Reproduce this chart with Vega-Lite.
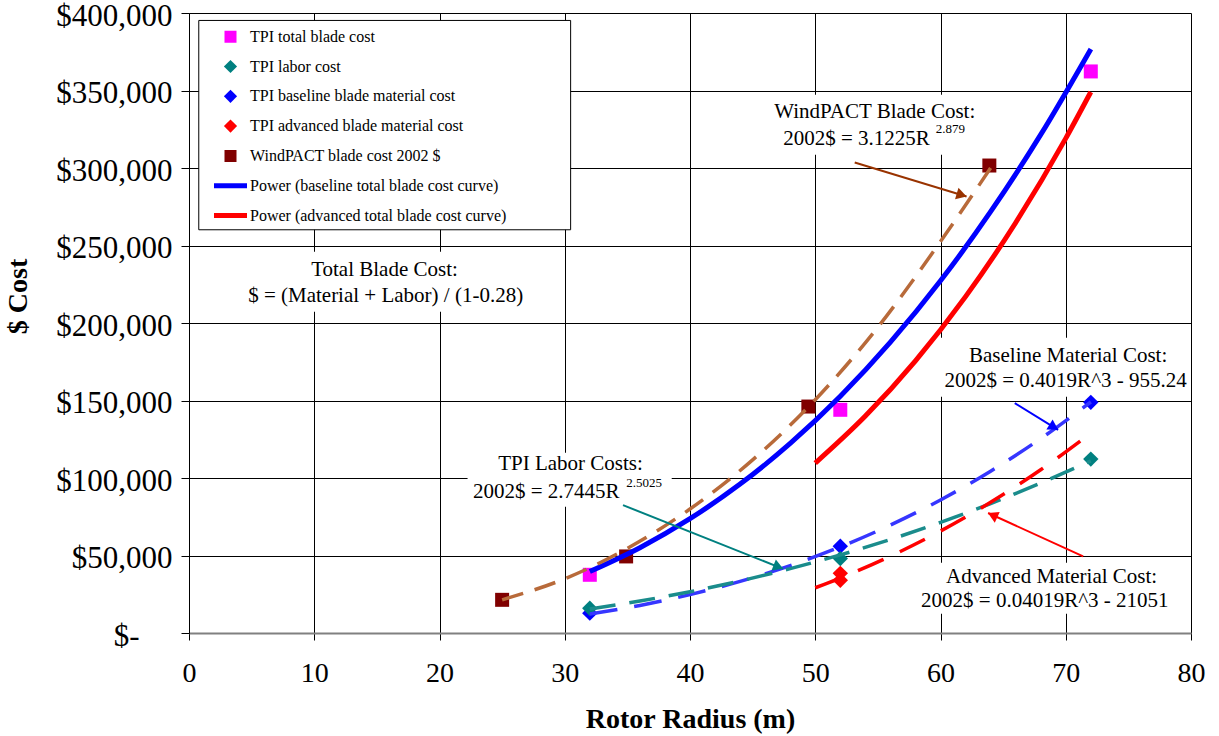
{
  "$schema": "https://vega.github.io/schema/vega-lite/v6.json",
  "width": 1002,
  "height": 620,
  "autosize": {"type": "none"},
  "padding": {"left": 189, "top": 13, "right": 28, "bottom": 103},
  "background": "white",
  "config": {
    "font": "Liberation Serif",
    "view": {"stroke": null},
    "legend": {
      "orient": "none",
      "legendX": 10.3,
      "legendY": 13.7,
      "padding": 0,
      "labelFont": "Liberation Serif",
      "labelFontSize": 16,
      "labelColor": "#000000",
      "labelLimit": 400,
      "symbolSize": 100,
      "symbolStrokeWidth": 5,
      "symbolOpacity": 1,
      "symbolOffset": 23.2,
      "labelOffset": 11.5,
      "clipHeight": 20,
      "rowPadding": 9.8
    }
  },
  "datasets": {
    "points": [
      {"series": "TPI total blade cost", "r": 32, "cost": 37550},
      {"series": "TPI total blade cost", "r": 52, "cost": 144000},
      {"series": "TPI total blade cost", "r": 72, "cost": 362300},
      {"series": "TPI baseline blade material cost", "r": 32, "cost": 12800},
      {"series": "TPI baseline blade material cost", "r": 52, "cost": 56000},
      {"series": "TPI baseline blade material cost", "r": 72, "cost": 148800},
      {"series": "TPI labor cost", "r": 32, "cost": 16000},
      {"series": "TPI labor cost", "r": 52, "cost": 48000},
      {"series": "TPI labor cost", "r": 72, "cost": 112200},
      {"series": "TPI advanced blade material cost", "r": 52, "cost": 38500},
      {"series": "TPI advanced blade material cost", "r": 52, "cost": 34000},
      {"series": "WindPACT blade cost 2002 $", "r": 25, "cost": 21400},
      {"series": "WindPACT blade cost 2002 $", "r": 34.9, "cost": 49400},
      {"series": "WindPACT blade cost 2002 $", "r": 49.45, "cost": 146100},
      {"series": "WindPACT blade cost 2002 $", "r": 63.9, "cost": 301600}
    ],
    "curves": [
      {"series": "Power (baseline total blade cost curve)", "r": 32, "cost": 39700},
      {"series": "Power (baseline total blade cost curve)", "r": 36, "cost": 55050},
      {"series": "Power (baseline total blade cost curve)", "r": 40, "cost": 73740},
      {"series": "Power (baseline total blade cost curve)", "r": 44, "cost": 96070},
      {"series": "Power (baseline total blade cost curve)", "r": 48, "cost": 122300},
      {"series": "Power (baseline total blade cost curve)", "r": 52, "cost": 152700},
      {"series": "Power (baseline total blade cost curve)", "r": 56, "cost": 187600},
      {"series": "Power (baseline total blade cost curve)", "r": 60, "cost": 227200},
      {"series": "Power (baseline total blade cost curve)", "r": 64, "cost": 271800},
      {"series": "Power (baseline total blade cost curve)", "r": 68, "cost": 321500},
      {"series": "Power (baseline total blade cost curve)", "r": 72, "cost": 376700},
      {"series": "Power (advanced total blade cost curve)", "r": 50, "cost": 109600},
      {"series": "Power (advanced total blade cost curve)", "r": 54, "cost": 139950},
      {"series": "Power (advanced total blade cost curve)", "r": 58, "cost": 175600},
      {"series": "Power (advanced total blade cost curve)", "r": 62, "cost": 217000},
      {"series": "Power (advanced total blade cost curve)", "r": 66, "cost": 264700},
      {"series": "Power (advanced total blade cost curve)", "r": 70, "cost": 319100},
      {"series": "Power (advanced total blade cost curve)", "r": 72, "cost": 349000},
      {"series": "WindPACT fit", "r": 25, "cost": 21400},
      {"series": "WindPACT fit", "r": 30, "cost": 35000},
      {"series": "WindPACT fit", "r": 35, "cost": 54600},
      {"series": "WindPACT fit", "r": 40, "cost": 80000},
      {"series": "WindPACT fit", "r": 45, "cost": 111700},
      {"series": "WindPACT fit", "r": 50, "cost": 150500},
      {"series": "WindPACT fit", "r": 55, "cost": 197300},
      {"series": "WindPACT fit", "r": 60, "cost": 252600},
      {"series": "WindPACT fit", "r": 64, "cost": 300000},
      {"series": "Baseline material fit", "r": 32, "cost": 12215},
      {"series": "Baseline material fit", "r": 36, "cost": 17796},
      {"series": "Baseline material fit", "r": 40, "cost": 24767},
      {"series": "Baseline material fit", "r": 44, "cost": 33280},
      {"series": "Baseline material fit", "r": 48, "cost": 43492},
      {"series": "Baseline material fit", "r": 52, "cost": 55555},
      {"series": "Baseline material fit", "r": 56, "cost": 69625},
      {"series": "Baseline material fit", "r": 60, "cost": 85855},
      {"series": "Baseline material fit", "r": 64, "cost": 104401},
      {"series": "Baseline material fit", "r": 68, "cost": 125415},
      {"series": "Baseline material fit", "r": 72, "cost": 149053},
      {"series": "Labor fit", "r": 32, "cost": 15500},
      {"series": "Labor fit", "r": 36, "cost": 20630},
      {"series": "Labor fit", "r": 40, "cost": 26650},
      {"series": "Labor fit", "r": 44, "cost": 33600},
      {"series": "Labor fit", "r": 48, "cost": 41500},
      {"series": "Labor fit", "r": 52, "cost": 50400},
      {"series": "Labor fit", "r": 56, "cost": 60350},
      {"series": "Labor fit", "r": 60, "cost": 71360},
      {"series": "Labor fit", "r": 64, "cost": 83470},
      {"series": "Labor fit", "r": 68, "cost": 96720},
      {"series": "Labor fit", "r": 72, "cost": 111100},
      {"series": "Advanced material fit", "r": 50, "cost": 29187},
      {"series": "Advanced material fit", "r": 52, "cost": 35459},
      {"series": "Advanced material fit", "r": 56, "cost": 49529},
      {"series": "Advanced material fit", "r": 60, "cost": 65759},
      {"series": "Advanced material fit", "r": 64, "cost": 84305},
      {"series": "Advanced material fit", "r": 68, "cost": 105319},
      {"series": "Advanced material fit", "r": 72, "cost": 128957}
    ],
    "boxes": [
      {"box": "legend", "r": 0.78, "r2": 30.47, "cost": 260150, "cost2": 395200},
      {"box": "windpact", "r": 46.2, "r2": 63.5, "cost": 308500, "cost2": 347250},
      {"box": "labor", "r": 22.24, "r2": 38.54, "cost": 81400, "cost2": 116300},
      {"box": "total", "r": 4.27, "r2": 27.04, "cost": 207200, "cost2": 245950},
      {"box": "baseline", "r": 59.7, "r2": 79.8, "cost": 152400, "cost2": 190500},
      {"box": "advanced", "r": 57.95, "r2": 78.8, "cost": 12400, "cost2": 45300}
    ],
    "arrows": [
      {"arrow": "windpact", "part": "shaft", "r": 53.15, "cost": 303600, "r2": 62.08, "cost2": 281600},
      {"arrow": "windpact", "part": "head", "r": 61.69, "cost": 282600},
      {"arrow": "labor", "part": "shaft", "r": 34.65, "cost": 82500, "r2": 47.43, "cost2": 41400},
      {"arrow": "labor", "part": "head", "r": 47.06, "cost": 42650},
      {"arrow": "baseline", "part": "shaft", "r": 65.93, "cost": 148300, "r2": 69.39, "cost2": 131100},
      {"arrow": "baseline", "part": "head", "r": 69.05, "cost": 132800},
      {"arrow": "advanced", "part": "shaft", "r": 71.39, "cost": 49400, "r2": 63.8, "cost2": 77400},
      {"arrow": "advanced", "part": "head", "r": 64.16, "cost": 76000}
    ],
    "notes": [
      {"part": "line", "text": "WindPACT Blade Cost:", "r": 54.75, "cost": 332200},
      {"part": "base", "text": "2002$ = 3.1225R", "r": 59.15, "cost": 315000},
      {"part": "sup", "text": "2.879", "r": 59.63, "cost": 322500},
      {"part": "line", "text": "Total Blade Cost:", "r": 15.61, "cost": 230460},
      {"part": "line", "text": "$ = (Material + Labor) / (1-0.28)", "r": 15.7, "cost": 213700},
      {"part": "line", "text": "TPI Labor Costs:", "r": 30.46, "cost": 105300},
      {"part": "base", "text": "2002$ = 2.7445R", "r": 34.38, "cost": 87040},
      {"part": "sup", "text": "2.5025", "r": 34.92, "cost": 93880},
      {"part": "line", "text": "Baseline Material Cost:", "r": 70.19, "cost": 174800},
      {"part": "line", "text": "2002$ = 0.4019R^3 - 955.24", "r": 69.99, "cost": 158650},
      {"part": "line", "text": "Advanced Material Cost:", "r": 68.87, "cost": 32200},
      {"part": "line", "text": "2002$ = 0.04019R^3 - 21051", "r": 68.33, "cost": 16710}
    ]
  },
  "encoding": {
    "x": {
      "field": "r",
      "type": "quantitative",
      "scale": {"domain": [0, 80], "nice": false, "zero": false},
      "axis": {
        "title": "Rotor Radius (m)",
        "values": [0, 10, 20, 30, 40, 50, 60, 70, 80],
        "grid": true,
        "gridColor": "#000000",
        "gridWidth": 1,
        "gridOpacity": 1,
        "domainColor": "#808080",
        "domainWidth": 2,
        "tickColor": "#000000",
        "tickSize": 7,
        "tickWidth": 1,
        "labelFont": "Liberation Serif",
        "labelFontSize": 28,
        "labelColor": "#000000",
        "labelPadding": 19,
        "labelFlush": false,
        "labelOverlap": false,
        "titleFont": "Liberation Serif",
        "titleFontSize": 28,
        "titleFontWeight": "bold",
        "titleColor": "#000000",
        "titleY": 94,
        "titleBaseline": "alphabetic"
      }
    },
    "y": {
      "field": "cost",
      "type": "quantitative",
      "scale": {"domain": [0, 400000], "nice": false, "zero": true},
      "axis": {
        "title": "$ Cost",
        "values": [0, 50000, 100000, 150000, 200000, 250000, 300000, 350000, 400000],
        "labelExpr": "datum.value == 0 ? '$-' : '$' + format(datum.value, ',')",
        "grid": true,
        "gridColor": "#000000",
        "gridWidth": 1,
        "gridOpacity": 1,
        "domainColor": "#000000",
        "domainWidth": 1,
        "tickColor": "#000000",
        "tickSize": 8,
        "tickWidth": 1,
        "labelFont": "Liberation Serif",
        "labelFontSize": 31,
        "labelColor": "#000000",
        "labelPadding": {"condition": {"test": "datum.value === 0", "value": 42}, "value": 9},
        "labelOffset": 3,
        "labelFlush": false,
        "labelOverlap": false,
        "titleFont": "Liberation Serif",
        "titleFontSize": 28,
        "titleFontWeight": "bold",
        "titleColor": "#000000",
        "titleX": -157,
        "titleY": 283
      }
    }
  },
  "layer": [
    {
      "data": {"name": "boxes"},
      "transform": [{"filter": "datum.box == 'legend'"}],
      "mark": {"type": "rect", "fill": "white", "stroke": "black", "strokeWidth": 1},
      "encoding": {"x2": {"field": "r2"}, "y2": {"field": "cost2"}}
    },
    {
      "data": {"name": "boxes"},
      "transform": [{"filter": "datum.box != 'legend'"}],
      "mark": {"type": "rect", "fill": "white", "strokeWidth": 0},
      "encoding": {"x2": {"field": "r2"}, "y2": {"field": "cost2"}}
    },
    {
      "data": {"name": "points"},
      "mark": {"type": "point", "filled": true, "opacity": 1, "size": 136},
      "encoding": {
        "fill": {
          "field": "series",
          "type": "nominal",
          "scale": {
            "domain": ["TPI total blade cost", "TPI labor cost", "TPI baseline blade material cost", "TPI advanced blade material cost", "WindPACT blade cost 2002 $", "Power (baseline total blade cost curve)", "Power (advanced total blade cost curve)"],
            "range": ["#FF00FF", "#008080", "#0000FF", "#FF0000", "#800000", "transparent", "transparent"]
          },
          "legend": {"title": null}
        },
        "stroke": {
          "field": "series",
          "type": "nominal",
          "scale": {
            "domain": ["TPI total blade cost", "TPI labor cost", "TPI baseline blade material cost", "TPI advanced blade material cost", "WindPACT blade cost 2002 $", "Power (baseline total blade cost curve)", "Power (advanced total blade cost curve)"],
            "range": ["transparent", "transparent", "transparent", "transparent", "transparent", "#0000FF", "#FF0000"]
          },
          "legend": {"title": null}
        },
        "shape": {
          "field": "series",
          "type": "nominal",
          "scale": {
            "domain": ["TPI total blade cost", "TPI labor cost", "TPI baseline blade material cost", "TPI advanced blade material cost", "WindPACT blade cost 2002 $", "Power (baseline total blade cost curve)", "Power (advanced total blade cost curve)"],
            "range": ["M-1.2,-1.2L1.2,-1.2L1.2,1.2L-1.2,1.2Z", "M0,-1.32L1.32,0L0,1.32L-1.32,0Z", "M0,-1.32L1.32,0L0,1.32L-1.32,0Z", "M0,-1.32L1.32,0L0,1.32L-1.32,0Z", "M-1.2,-1.2L1.2,-1.2L1.2,1.2L-1.2,1.2Z", "M-3.3,0L3.3,0", "M-3.3,0L3.3,0"]
          },
          "legend": {"title": null}
        }
      }
    },
    {
      "data": {"name": "curves"},
      "transform": [{"filter": "indexof(datum.series, 'Power') == 0"}],
      "mark": {"type": "line", "strokeWidth": 5, "interpolate": "monotone"},
      "encoding": {
        "stroke": {
          "field": "series",
          "type": "nominal",
          "scale": {
            "domain": ["TPI total blade cost", "TPI labor cost", "TPI baseline blade material cost", "TPI advanced blade material cost", "WindPACT blade cost 2002 $", "Power (baseline total blade cost curve)", "Power (advanced total blade cost curve)"],
            "range": ["transparent", "transparent", "transparent", "transparent", "transparent", "#0000FF", "#FF0000"]
          },
          "legend": null
        }
      }
    },
    {
      "data": {"name": "curves"},
      "transform": [{"filter": "datum.series == 'WindPACT fit'"}],
      "mark": {"type": "line", "strokeWidth": 3.5, "color": "#B86A3A", "strokeDash": [22, 12], "interpolate": "monotone"},
      "encoding": {}
    },
    {
      "data": {"name": "curves"},
      "transform": [{"filter": "datum.series == 'Baseline material fit'"}],
      "mark": {"type": "line", "strokeWidth": 3.5, "color": "#3636FF", "strokeDash": [28, 17], "interpolate": "monotone"},
      "encoding": {}
    },
    {
      "data": {"name": "curves"},
      "transform": [{"filter": "datum.series == 'Labor fit'"}],
      "mark": {"type": "line", "strokeWidth": 3.5, "color": "#1A8C8C", "strokeDash": [26, 14], "interpolate": "monotone"},
      "encoding": {}
    },
    {
      "data": {"name": "curves"},
      "transform": [{"filter": "datum.series == 'Advanced material fit'"}],
      "mark": {"type": "line", "strokeWidth": 3.5, "color": "#FF0000", "strokeDash": [28, 18], "interpolate": "monotone"},
      "encoding": {}
    },
    {
      "data": {"name": "arrows"},
      "transform": [{"filter": "datum.arrow == 'windpact' && datum.part == 'shaft'"}],
      "mark": {"type": "rule", "color": "#993300", "strokeWidth": 2},
      "encoding": {"x2": {"field": "r2"}, "y2": {"field": "cost2"}}
    },
    {
      "data": {"name": "arrows"},
      "transform": [{"filter": "datum.arrow == 'windpact' && datum.part == 'head'"}],
      "mark": {"type": "point", "shape": "triangle-up", "filled": true, "opacity": 1, "color": "#993300", "size": 140, "angle": 106.9},
      "encoding": {}
    },
    {
      "data": {"name": "arrows"},
      "transform": [{"filter": "datum.arrow == 'labor' && datum.part == 'shaft'"}],
      "mark": {"type": "rule", "color": "#008080", "strokeWidth": 2},
      "encoding": {"x2": {"field": "r2"}, "y2": {"field": "cost2"}}
    },
    {
      "data": {"name": "arrows"},
      "transform": [{"filter": "datum.arrow == 'labor' && datum.part == 'head'"}],
      "mark": {"type": "point", "shape": "triangle-up", "filled": true, "opacity": 1, "color": "#008080", "size": 140, "angle": 111.8},
      "encoding": {}
    },
    {
      "data": {"name": "arrows"},
      "transform": [{"filter": "datum.arrow == 'baseline' && datum.part == 'shaft'"}],
      "mark": {"type": "rule", "color": "#0000FF", "strokeWidth": 2},
      "encoding": {"x2": {"field": "r2"}, "y2": {"field": "cost2"}}
    },
    {
      "data": {"name": "arrows"},
      "transform": [{"filter": "datum.arrow == 'baseline' && datum.part == 'head'"}],
      "mark": {"type": "point", "shape": "triangle-up", "filled": true, "opacity": 1, "color": "#0000FF", "size": 140, "angle": 121.7},
      "encoding": {}
    },
    {
      "data": {"name": "arrows"},
      "transform": [{"filter": "datum.arrow == 'advanced' && datum.part == 'shaft'"}],
      "mark": {"type": "rule", "color": "#FF0000", "strokeWidth": 2},
      "encoding": {"x2": {"field": "r2"}, "y2": {"field": "cost2"}}
    },
    {
      "data": {"name": "arrows"},
      "transform": [{"filter": "datum.arrow == 'advanced' && datum.part == 'head'"}],
      "mark": {"type": "point", "shape": "triangle-up", "filled": true, "opacity": 1, "color": "#FF0000", "size": 140, "angle": 294.6},
      "encoding": {}
    },
    {
      "data": {"name": "notes"},
      "transform": [{"filter": "datum.part == 'line'"}],
      "mark": {"type": "text", "font": "Liberation Serif", "fontSize": 21, "color": "#000000", "align": "center", "baseline": "alphabetic"},
      "encoding": {"text": {"field": "text"}}
    },
    {
      "data": {"name": "notes"},
      "transform": [{"filter": "datum.part == 'base'"}],
      "mark": {"type": "text", "font": "Liberation Serif", "fontSize": 21, "color": "#000000", "align": "right", "baseline": "alphabetic"},
      "encoding": {"text": {"field": "text"}}
    },
    {
      "data": {"name": "notes"},
      "transform": [{"filter": "datum.part == 'sup'"}],
      "mark": {"type": "text", "font": "Liberation Serif", "fontSize": 13, "color": "#000000", "align": "left", "baseline": "alphabetic"},
      "encoding": {"text": {"field": "text"}}
    }
  ]
}
